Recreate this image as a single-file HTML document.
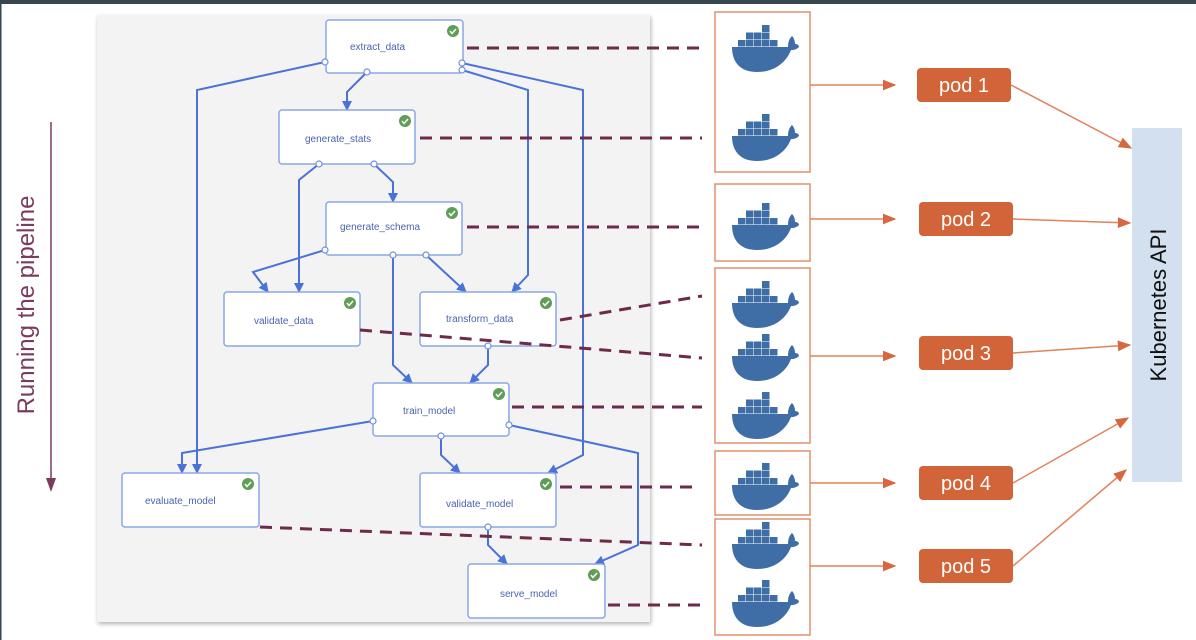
<!DOCTYPE html>
<html><head><meta charset="utf-8"><style>
html,body{margin:0;padding:0;background:#fff}
svg{display:block}
text{font-family:"Liberation Sans",sans-serif}
</style></head><body>
<svg width="1196" height="640" viewBox="0 0 1196 640" xmlns="http://www.w3.org/2000/svg">
<defs>
<g id="whale" fill="#3f6da6">
<rect x="30" y="0" width="7.5" height="7"/>
<rect x="14" y="7.5" width="7.5" height="7"/><rect x="22" y="7.5" width="7.5" height="7"/><rect x="30" y="7.5" width="7.5" height="7"/>
<rect x="6" y="15" width="7.5" height="6.5"/><rect x="14" y="15" width="7.5" height="6.5"/><rect x="22" y="15" width="7.5" height="6.5"/><rect x="30" y="15" width="7.5" height="6.5"/><rect x="38" y="15" width="7.5" height="6.5"/>
<path d="M0,22 L56,22 C56,16 58,13 60,11 C62,13 63,16 63,19 C65,19 67,20 67,22 C64,25 61,25 59,25 C54,38 42,47 25,47 C8,47 0,37 0,22 Z"/>
</g>
<g id="chk"><circle r="6" fill="#5e9e57"/><path d="M-3,0 L-1,2.5 L3,-2" stroke="#fff" stroke-width="1.5" fill="none"/></g>
<marker id="ba" viewBox="0 0 10 10" refX="9" refY="5" markerWidth="5" markerHeight="5" orient="auto"><path d="M0,0 L10,5 L0,10 z" fill="#4a72d8"/></marker>
<marker id="oa" viewBox="0 0 10 10" refX="9" refY="5" markerWidth="9" markerHeight="9" orient="auto"><path d="M0,1 L10,5 L0,9 z" fill="#d6673f"/></marker>
<filter id="sh" x="-5%" y="-5%" width="110%" height="110%"><feDropShadow dx="1" dy="2" stdDeviation="2" flood-color="#000" flood-opacity="0.3"/></filter>
</defs>
<rect x="0" y="0" width="1196" height="4" fill="#37474f"/>
<rect x="0" y="0" width="1.5" height="640" fill="#37474f"/>

<text transform="translate(34,305) rotate(-90)" text-anchor="middle" font-size="24" fill="#7a3b5e">Running the pipeline</text>
<line x1="51" y1="122" x2="51" y2="480" stroke="#7a3b5e" stroke-width="1.5"/>
<path d="M46,478 L56,478 L51,492 z" fill="#7a3b5e"/>

<rect x="97" y="15" width="553" height="607" fill="#f3f3f3" filter="url(#sh)"/>

<g stroke="#4a72d8" stroke-width="2" fill="none" marker-end="url(#ba)">
<polyline points="325,62 197,90 197,473"/>
<polyline points="367,72 347,92 347,110"/>
<polyline points="462,63 583,90 583,455 548,473"/>
<polyline points="462,70 528,90 528,275 512,292"/>
<polyline points="319,164 299,180 299,292"/>
<polyline points="374,164 393,182 393,202"/>
<polyline points="325,250 253,272 268,292"/>
<polyline points="393,255 393,365 412,383"/>
<polyline points="426,255 466,292"/>
<polyline points="488,346 488,365 470,383"/>
<polyline points="373,421 182,453 182,473"/>
<polyline points="441,436 441,455 460,473"/>
<polyline points="509,425 638,453 638,545 595,564"/>
<polyline points="488,527 488,545 507,564"/>
</g>

<g fill="#fff" stroke="#8aa7e6" stroke-width="1.5">
<rect x="326" y="20" width="137" height="53" rx="3"/>
<rect x="279" y="110" width="136" height="54" rx="3"/>
<rect x="326" y="202" width="136" height="53" rx="3"/>
<rect x="224" y="292" width="136" height="54" rx="3"/>
<rect x="420" y="292" width="136" height="54" rx="3"/>
<rect x="373" y="383" width="136" height="53" rx="3"/>
<rect x="122" y="473" width="137" height="54" rx="3"/>
<rect x="420" y="473" width="136" height="54" rx="3"/>
<rect x="468" y="564" width="137" height="54" rx="3"/>
</g>
<g font-size="10" fill="#4a63b0">
<text x="350" y="50">extract_data</text>
<text x="305" y="142">generate_stats</text>
<text x="340" y="230">generate_schema</text>
<text x="254" y="324">validate_data</text>
<text x="446" y="322">transform_data</text>
<text x="403" y="414">train_model</text>
<text x="145" y="504">evaluate_model</text>
<text x="446" y="507">validate_model</text>
<text x="500" y="597">serve_model</text>
</g>
<use href="#chk" x="453" y="31"/><use href="#chk" x="405" y="121"/><use href="#chk" x="452" y="213"/>
<use href="#chk" x="350" y="303"/><use href="#chk" x="546" y="303"/><use href="#chk" x="499" y="394"/>
<use href="#chk" x="248" y="484"/><use href="#chk" x="546" y="484"/><use href="#chk" x="594" y="575"/>
<g fill="#fff" stroke="#6f8fe0" stroke-width="1.2">
<circle cx="325" cy="62" r="3"/><circle cx="367" cy="72" r="3"/><circle cx="462" cy="63" r="3"/><circle cx="462" cy="70" r="3"/>
<circle cx="319" cy="164" r="3"/><circle cx="374" cy="164" r="3"/>
<circle cx="325" cy="250" r="3"/><circle cx="393" cy="255" r="3"/><circle cx="426" cy="255" r="3"/>
<circle cx="488" cy="346" r="3"/>
<circle cx="373" cy="421" r="3"/><circle cx="441" cy="436" r="3"/><circle cx="509" cy="425" r="3"/>
<circle cx="488" cy="527" r="3"/>
</g>

<g stroke="#6e2a4a" stroke-width="3" stroke-dasharray="12,8" fill="none">
<line x1="467" y1="48" x2="700" y2="48"/>
<line x1="420" y1="138" x2="702" y2="138"/>
<line x1="467" y1="227" x2="702" y2="227"/>
<line x1="560" y1="320" x2="702" y2="296"/>
<line x1="360" y1="330" x2="702" y2="358"/>
<line x1="512" y1="407" x2="702" y2="407"/>
<line x1="560" y1="487" x2="700" y2="487"/>
<line x1="260" y1="527" x2="702" y2="545"/>
<line x1="608" y1="605" x2="702" y2="605"/>
</g>

<g fill="none" stroke="#e0906f" stroke-width="1.5">
<rect x="715" y="12" width="95" height="160"/>
<rect x="715" y="184" width="95" height="77"/>
<rect x="715" y="268" width="95" height="175"/>
<rect x="715" y="451" width="95" height="64"/>
<rect x="715" y="519" width="95" height="116"/>
</g>
<use href="#whale" x="732" y="25"/>
<use href="#whale" x="732" y="114"/>
<use href="#whale" x="732" y="203"/>
<use href="#whale" x="732" y="281"/>
<use href="#whale" x="732" y="334"/>
<use href="#whale" x="732" y="392"/>
<use href="#whale" x="732" y="463"/>
<use href="#whale" x="732" y="522"/>
<use href="#whale" x="732" y="580"/>

<g stroke="#e0825a" stroke-width="1.5" fill="none" marker-end="url(#oa)">
<line x1="810" y1="85" x2="895" y2="85"/>
<line x1="810" y1="219" x2="895" y2="219"/>
<line x1="810" y1="356" x2="895" y2="356"/>
<line x1="810" y1="483" x2="895" y2="483"/>
<line x1="810" y1="566" x2="895" y2="566"/>
<line x1="1011" y1="85" x2="1131" y2="148"/>
<line x1="1013" y1="219" x2="1130" y2="223"/>
<line x1="1013" y1="353" x2="1130" y2="345"/>
<line x1="1013" y1="483" x2="1128" y2="418"/>
<line x1="1013" y1="566" x2="1126" y2="470"/>
</g>
<g fill="#d2643a">
<rect x="917" y="68" width="94" height="34" rx="4"/>
<rect x="919" y="202" width="94" height="34" rx="4"/>
<rect x="919" y="336" width="94" height="34" rx="4"/>
<rect x="919" y="466" width="94" height="34" rx="4"/>
<rect x="919" y="549" width="94" height="34" rx="4"/>
</g>
<g font-size="20" fill="#fff" text-anchor="middle">
<text x="964" y="92">pod 1</text>
<text x="966" y="226">pod 2</text>
<text x="966" y="360">pod 3</text>
<text x="966" y="490">pod 4</text>
<text x="966" y="573">pod 5</text>
</g>

<rect x="1132" y="128" width="50" height="354" fill="#d3e0ef"/>
<text transform="translate(1166,305) rotate(-90)" text-anchor="middle" font-size="22" fill="#111">Kubernetes API</text>
</svg>
</body></html>
